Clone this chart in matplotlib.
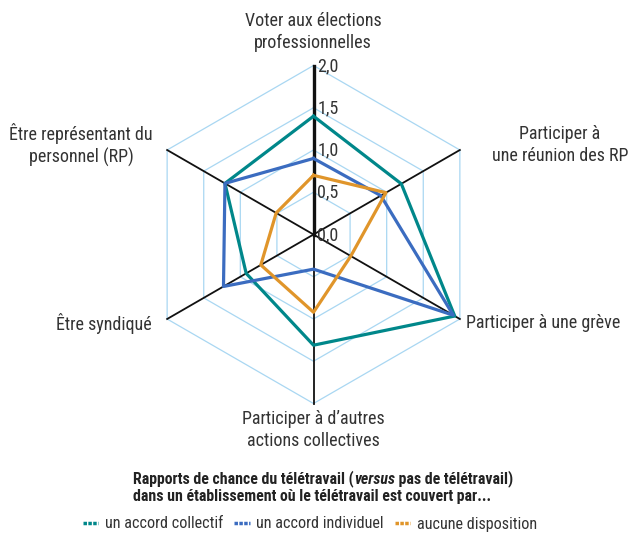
import numpy as np
import matplotlib
matplotlib.use("Agg")
import matplotlib.pyplot as plt
from matplotlib.lines import Line2D
from matplotlib import font_manager

categories = ["Voter aux élections\nprofessionnelles",
              "Participer à\nune réunion des RP",
              "Participer à une grève",
              "Participer à d\u2019autres\nactions collectives",
              "Être syndiqué",
              "Être représentant du\npersonnel (RP)"]
series_names = ["un accord collectif", "un accord individuel", "aucune disposition"]
collectif = [1.40, 1.20, 1.93, 1.31, 0.92, 1.21]
individuel = [0.90, 0.92, 1.91, 0.41, 1.23, 1.21]
aucune = [0.70, 0.99, 0.51, 0.92, 0.72, 0.51]
tick_values = [0.0, 0.5, 1.0, 1.5, 2.0]
tick_labels = ["0,0", "0,5", "1,0", "1,5", "2,0"]

colors = ["#00878a", "#3b6cc0", "#e0952a"]

avail = {f.name for f in font_manager.fontManager.ttflist}
fam = "Roboto Condensed" if "Roboto Condensed" in avail else "DejaVu Sans"
plt.rcParams['font.family'] = [fam, "DejaVu Sans"]

W, H = 629, 533
fig = plt.figure(figsize=(W / 100, H / 100), dpi=100)
renderer = fig.canvas.get_renderer()


def fit_size(s, target_px, base=12, **kw):
    t = fig.text(0, 0, s, fontsize=base, **kw)
    w = t.get_window_extent(renderer=renderer).width
    t.remove()
    return base * target_px / w


fs = fit_size("Participer à une grève", 154)
tfs = fit_size("Rapports de chance du télétravail (versus pas de télétravail)", 384, fontweight="bold")
lfs = fit_size("un accord collectif", 118)

cx, cy, R = 313.5, 234.5, 169.0
ax = fig.add_axes([(cx - R) / W, (H - cy - R) / H, 2 * R / W, 2 * R / H], projection="polar")
ax.set_theta_offset(np.pi / 2)
ax.set_theta_direction(-1)
ax.set_ylim(0, 2.0)
ax.axis("off")

n = len(categories)
angles = np.arange(n) * 2 * np.pi / n
closed = np.append(angles, angles[0])

# hexagonal grid
for v in tick_values[1:]:
    ax.plot(closed, [v] * (n + 1), color="#a9d7f2", lw=0.9, zorder=1, clip_on=False)
# spokes
for i, a in enumerate(angles):
    ax.plot([a, a], [0, 2.0], color="#111111", lw=2.4 if i == 0 else 1.3, zorder=2, clip_on=False)

for vals, c in zip([collectif, individuel, aucune], colors):
    ax.plot(closed, list(vals) + [vals[0]], color=c, lw=2.3, zorder=3, clip_on=False)

txtc = "#333333"
# tick labels along top axis
for v, lab in zip(tick_values, tick_labels):
    y_px = cy - v / 2.0 * R
    fig.text((cx + 4) / W, 1 - (y_px + 0.5) / H, lab, ha="left", va="center", fontsize=fs, color=txtc, zorder=5)

lab_pos = [
    (313, 32, "center"),
    (560, 145, "center"),
    (466, 323, "left"),
    (313, 430, "center"),
    (152, 323, "right"),
    (81, 145, "center"),
]
for (x, y, ha), lab in zip(lab_pos, categories):
    fig.text(x / W, 1 - y / H, lab, ha=ha, va="center", fontsize=fs, color=txtc,
             linespacing=1.3, multialignment="center")

# title with italic 'versus'
x0 = 133
y1 = 1 - 479 / H
parts = [("Rapports de chance du télétravail (", "normal"),
         ("versus", "italic"),
         (" pas de télétravail)", "normal")]
xcur = x0
for s, st in parts:
    t = fig.text(xcur / W, y1, s, ha="left", va="center", fontsize=tfs, fontweight="bold",
                 style=st, color="#222222")
    bb = t.get_window_extent(renderer=renderer)
    xcur += bb.width
fig.text(x0 / W, 1 - 497 / H, "dans un établissement où le télétravail est couvert par...",
         ha="left", va="center", fontsize=tfs, fontweight="bold", color="#222222")

handles = [Line2D([], [], color=c, lw=2.5, linestyle=(0, (1.0, 0.4))) for c in colors]
fig.legend(handles, series_names, loc="center", bbox_to_anchor=(310 / W, 1 - 524 / H), ncol=3,
           frameon=False, fontsize=lfs, handlelength=0.95, handletextpad=0.4, columnspacing=0.7,
           labelcolor=txtc)

fig.savefig("out.png", dpi=100)
